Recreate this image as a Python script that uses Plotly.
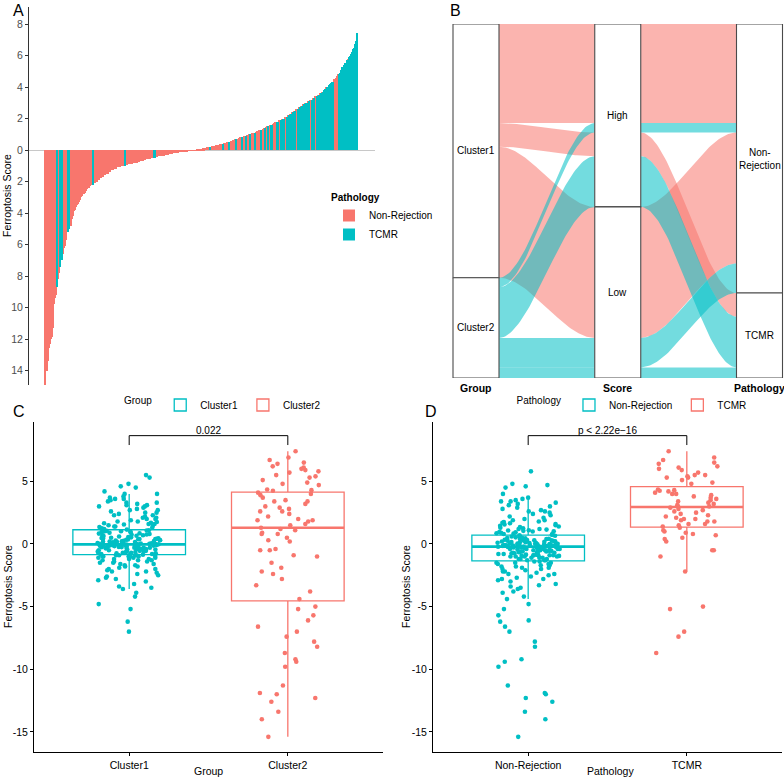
import numpy as np
import plotly.graph_objects as go
from collections import Counter

# ---------------- data ----------------
c1_nonrej = [
    -7.0, -6.2, -5.2, -4.8, -4.2, -3.9, -3.6, -3.5, -3.4, -3.2, -3.0, -2.9, -2.8, -2.7, -2.6, -2.5, -2.4, -2.3, -2.2, -2.2,
    -2.1, -2.0, -2.0, -1.9, -1.8, -1.8, -1.7, -1.7, -1.6, -1.6, -1.5, -1.5, -1.4, -1.4, -1.3, -1.3, -1.3, -1.2, -1.2, -1.2,
    -1.1, -1.1, -1.1, -1.0, -1.0, -1.0, -1.0, -0.95, -0.95, -0.9, -0.9, -0.9, -0.9, -0.85,
    -0.85, -0.8, -0.8, -0.8, -0.75, -0.75, -0.7, -0.7, -0.7, -0.65, -0.65, -0.6, -0.6, -0.6, -0.55, -0.55, -0.5, -0.5, -0.5, -0.45,
    -0.45, -0.4, -0.4, -0.4, -0.38, -0.35, -0.35, -0.32, -0.3, -0.3, -0.28, -0.26, -0.25, -0.24, -0.22, -0.2, -0.2, -0.18, -0.17, -0.16,
    -0.15, -0.14, -0.13, -0.12, -0.11, -0.1, -0.09, -0.08, -0.07, -0.06, -0.05, -0.04, -0.03, -0.03, -0.02, -0.01, -0.01,
    0.01, 0.02, 0.04, 0.05, 0.07, 0.08, 0.1, 0.12, 0.14, 0.15, 0.17, 0.19, 0.2, 0.22, 0.24, 0.26, 0.28, 0.3, 0.32, 0.34,
    0.36, 0.38, 0.4, 0.42, 0.44, 0.46, 0.48, 0.5, 0.53, 0.56, 0.6, 0.63, 0.66, 0.7,
    0.73, 0.76, 0.8, 0.83, 0.86, 0.9, 0.93, 0.96, 1.0, 1.02, 1.05, 1.08, 1.1,
    1.15, 1.2, 1.25, 1.3, 1.35, 1.4, 1.45, 1.5, 1.55, 1.6, 1.65, 1.7, 1.75, 1.8, 1.9, 2.0, 2.1, 2.2, 2.3, 2.4,
    2.5, 2.6, 2.7, 2.8, 2.9, 3.0, 3.1, 3.2, 3.3, 3.4, 3.5, 3.6, 3.7, 4.0, 4.5, 4.6, 4.8,
]
c1_tcmr = [0.4, 0.7, 1.0, 1.4, 1.6, 1.8, 2.0, 2.1, 2.3, 2.5, 2.7, 3.0, 3.1, 3.3, 3.6, 3.8, 4.0, 4.2, 5.3, 5.5]
c2_nonrej = [-15.4, -14.0, -13.4, -12.6, -12.3, -12.0, -11.9, -11.3, -9.8, -9.4, -9.2, -8.2, -7.8, -6.6, -6.1, -5.7,
             -4.4, -3.8, -3.3, -2.8, -2.4, -1.9, -1.5, -0.9, -0.4, 0.3, 0.8, 1.2, 1.9, 2.6, 3.4, 4.7, 5.8]
c2_tcmr = [-8.7, -7.4, -7.0, -5.2, -5.0, -2.2, -1.0, -0.5, -0.5, 0.2, 0.5, 0.8, 0.9, 1.1, 1.3,
           1.5, 1.6, 1.8, 1.9, 2.0, 2.2, 2.4, 2.6, 2.8, 2.9, 3.0, 3.2, 3.4, 3.5, 3.7, 3.9, 4.0, 4.1,
           4.25, 4.3, 4.35, 4.8, 4.9, 5.1, 5.3, 5.4, 5.5, 5.7, 5.9, 6.0, 6.1, 6.2, 6.4, 6.5, 6.7, 6.9, 7.4]

groups = ["Cluster1", "Cluster2"]
pathologies = ["Non-Rejection", "TCMR"]
score_levels = ["High", "Low"]
alluvial_axes = ["Group", "Score", "Pathology"]
a_tickvals = [8, 6, 4, 2, 0, -2, -4, -6, -8, -10, -12, -14]
a_ticktext = [str(abs(v)) for v in a_tickvals]
cd_tickvals = [5, 0, -5, -10, -15]
cd_ticktext = ["5", "0", "-5", "-10", "-15"]
p_label_c = "0.022"
p_label_d = "p < 2.22e\u221216"

# ---------------- styles ----------------
PINK = "#F8766D"
TEAL = "#00BFC4"
W, H = 784, 777
FONT = "Liberation Sans, Arial, sans-serif"


def px_x(p):
    return p / W


def px_y(p):
    return 1 - p / H


samples = ([(s, "Cluster1", "Non-Rejection") for s in c1_nonrej] +
           [(s, "Cluster1", "TCMR") for s in c1_tcmr] +
           [(s, "Cluster2", "Non-Rejection") for s in c2_nonrej] +
           [(s, "Cluster2", "TCMR") for s in c2_tcmr])
N = len(samples)

fig = go.Figure()

# ---------------- Panel A: waterfall bars ----------------
order = sorted(samples, key=lambda r: r[0])
path_col_a = {"Non-Rejection": PINK, "TCMR": TEAL}
for p in pathologies:
    xs = [i for i, r in enumerate(order) if r[2] == p]
    ys = [r[0] for r in order if r[2] == p]
    fig.add_trace(go.Bar(x=xs, y=ys, width=1.0, name=p, marker=dict(color=path_col_a[p], line=dict(width=0)),
                         xaxis="x", yaxis="y", legend="legend", showlegend=True))

# ---------------- Panel B: alluvial ----------------
cnt = Counter((g, "High" if s > 0 else "Low", p) for s, g, p in samples)
combos = [(g, sc, p, cnt[(g, sc, p)]) for g in groups for sc in score_levels for p in pathologies if cnt[(g, sc, p)] > 0]
gi = {g: i for i, g in enumerate(groups)}
si = {s: i for i, s in enumerate(score_levels)}
pi = {p: i for i, p in enumerate(pathologies)}


def lode_positions(key):
    pos, y = {}, 0
    for c in sorted(combos, key=key):
        pos[c[:3]] = (y, y + c[3])
        y += c[3]
    return pos


pos_axes = [
    lode_positions(lambda c: (gi[c[0]], si[c[1]], pi[c[2]])),
    lode_positions(lambda c: (si[c[1]], pi[c[2]], gi[c[0]])),
    lode_positions(lambda c: (pi[c[2]], si[c[1]], gi[c[0]])),
]
hw = 23 / 141.75
t = np.linspace(0, 1, 60)
f = 3 * t ** 2 - 2 * t ** 3
grp_fill = {"Cluster1": "rgba(248,118,109,0.55)", "Cluster2": "rgba(0,191,196,0.55)"}
for k in range(2):
    x0, x1 = k + 1 + hw, k + 2 - hw
    xs = x0 + (x1 - x0) * t
    for c in combos:
        a0, b0 = pos_axes[k][c[:3]]
        a1, b1 = pos_axes[k + 1][c[:3]]
        top = a0 + (a1 - a0) * f
        bot = b0 + (b1 - b0) * f
        fig.add_trace(go.Scatter(x=np.concatenate([xs, xs[::-1]]), y=np.concatenate([top, bot[::-1]]),
                                 mode="lines", fill="toself", fillcolor=grp_fill[c[0]], line=dict(width=0),
                                 xaxis="x2", yaxis="y2", showlegend=False, hoverinfo="skip"))

strata_levels = [groups, score_levels, pathologies]
annotations = []
for k in range(3):
    y = 0
    for lev in strata_levels[k]:
        n = sum(c[3] for c in combos if c[k] == lev)
        xk = k + 1
        fig.add_trace(go.Scatter(x=[xk - hw, xk + hw, xk + hw, xk - hw, xk - hw], y=[y, y, y + n, y + n, y],
                                 mode="lines", fill="toself", fillcolor="white",
                                 line=dict(color="#4a4a4a", width=1.1),
                                 xaxis="x2", yaxis="y2", showlegend=False, hoverinfo="skip"))
        label = "Non-<br>Rejection" if lev == "Non-Rejection" else lev
        annotations.append(dict(x=xk, y=y + n / 2, xref="x2", yref="y2", text=label, showarrow=False,
                                font=dict(size=10, color="black"), xanchor="center", yanchor="middle"))
        y += n
    annotations.append(dict(x=k + 1, y=px_y(388), xref="x2", yref="paper", text="<b>%s</b>" % alluvial_axes[k],
                            showarrow=False, font=dict(size=10.5, color="black"), xanchor="center",
                            yanchor="middle"))

# ---------------- Panels C & D: box + jitter ----------------
def jitter_offsets(n, half, seed):
    # deterministic hash-based horizontal jitter (position only)
    k = np.arange(n) + seed
    u = np.modf(np.abs(np.sin(k * 12.9898 + 78.233) * 43758.5453))[0]
    return (u - 0.5) * 2 * half


panels = [
    ("x3", "y3", "legend2", groups, 1, {"Cluster1": TEAL, "Cluster2": PINK}, p_label_c),
    ("x4", "y4", "legend3", pathologies, 2, {"Non-Rejection": TEAL, "TCMR": PINK}, p_label_d),
]
ymax_all = max(s for s, _, _ in samples)
for pidx, (xa, ya, lg, levels, col, colors, plab) in enumerate(panels):
    for i, lev in enumerate(levels):
        vals = np.array([r[0] for r in samples if r[col] == lev])
        fig.add_trace(go.Box(y=vals, x=[i] * len(vals), width=0.71, name=lev, boxpoints="outliers",
                             marker=dict(opacity=0, size=1), line=dict(color=colors[lev], width=1.3),
                             fillcolor="white", whiskerwidth=0, quartilemethod="linear",
                             xaxis=xa, yaxis=ya, legend=lg, showlegend=True, hoverinfo="skip"))
        med = float(np.median(vals))
        fig.add_trace(go.Scatter(x=[i - 0.355, i + 0.355], y=[med, med], mode="lines",
                                 line=dict(color=colors[lev], width=2.6), xaxis=xa, yaxis=ya,
                                 showlegend=False, hoverinfo="skip"))
        fig.add_trace(go.Scatter(x=i + jitter_offsets(len(vals), 0.2, 7 + 311 * pidx + 97 * i), y=vals,
                                 mode="markers", marker=dict(color=colors[lev], size=4.6, line=dict(width=0)),
                                 xaxis=xa, yaxis=ya, showlegend=False, hoverinfo="skip"))
    top, tip = ymax_all + 1.25, ymax_all + 0.5
    fig.add_trace(go.Scatter(x=[0, 0, 1, 1], y=[tip, top, top, tip], mode="lines",
                             line=dict(color="black", width=1), xaxis=xa, yaxis=ya,
                             showlegend=False, hoverinfo="skip"))
    annotations.append(dict(x=0.5, y=top, xref=xa, yref=ya, text=plab, showarrow=False,
                            font=dict(size=10, color="black"), xanchor="center", yanchor="bottom", yshift=-2))

# ---------------- text annotations ----------------
for txt, xp, yp in [("A", 18, 10), ("B", 455, 10), ("C", 19, 411), ("D", 431, 411)]:
    annotations.append(dict(x=px_x(xp), y=px_y(yp), xref="paper", yref="paper", text=txt, showarrow=False,
                            font=dict(size=16, color="black"), xanchor="center", yanchor="middle"))
for xp, yp in [(7, 196), (8, 587), (406, 587)]:
    annotations.append(dict(x=px_x(xp), y=px_y(yp), xref="paper", yref="paper", text="Ferroptosis Score",
                            textangle=-90, showarrow=False, font=dict(size=10.5, color="black"),
                            xanchor="center", yanchor="middle"))
for txt, xp in [("Group", 208.5), ("Pathology", 610)]:
    annotations.append(dict(x=px_x(xp), y=px_y(771), xref="paper", yref="paper", text=txt, showarrow=False,
                            font=dict(size=10.5, color="black"), xanchor="center", yanchor="middle"))

axis_common = dict(showgrid=False, zeroline=False, showline=True, linecolor="black", linewidth=1,
                   ticks="outside", ticklen=3, tickcolor="black", tickfont=dict(size=10.5, color="black"))

fig.update_layout(
    width=W, height=H, autosize=False, margin=dict(l=0, r=0, t=0, b=0),
    plot_bgcolor="white", paper_bgcolor="white", barmode="overlay", bargap=0,
    font=dict(family=FONT, size=10, color="black"),
    xaxis=dict(domain=[px_x(29), px_x(375)], range=[-15.8, N - 1 + 16.8], visible=False, anchor="y"),
    yaxis=dict(domain=[px_y(385), px_y(7)], range=[-14.92, 9.08], tickvals=a_tickvals, ticktext=a_ticktext,
               showgrid=False, showline=True, linecolor="#333333", linewidth=1, ticks="outside", ticklen=3,
               tickcolor="#333333", tickfont=dict(size=10.5, color="#4d4d4d"),
               zeroline=True, zerolinecolor="#c8c8c8", zerolinewidth=1, anchor="x"),
    xaxis2=dict(domain=[px_x(440), 1.0], range=[1 - 36 / 141.75, 3 + 24.5 / 141.75],
                showticklabels=False, showline=False, ticks="", showgrid=False,
                zeroline=False, anchor="y2"),
    yaxis2=dict(domain=[px_y(378), px_y(24)], range=[N, 0], visible=False, anchor="x2"),
    xaxis3=dict(domain=[px_x(34), px_x(383)], range=[-0.6, 1.6], tickvals=[0, 1], ticktext=groups,
                anchor="y3", **axis_common),
    yaxis3=dict(domain=[px_y(752), px_y(422)], range=[-16.61, 9.74], tickvals=cd_tickvals, ticktext=cd_ticktext,
                anchor="x3", **axis_common),
    xaxis4=dict(domain=[px_x(433), px_x(782)], range=[-0.6, 1.6], tickvals=[0, 1], ticktext=pathologies,
                anchor="y4", **axis_common),
    yaxis4=dict(domain=[px_y(752), px_y(422)], range=[-16.61, 9.74], tickvals=cd_tickvals, ticktext=cd_ticktext,
                anchor="x4", **axis_common),
    legend=dict(title=dict(text="<b>Pathology</b>", font=dict(size=10)), x=px_x(329), y=px_y(188),
                xanchor="left", yanchor="top", font=dict(size=10), bgcolor="rgba(0,0,0,0)",
                tracegroupgap=0, itemwidth=30),
    legend2=dict(title=dict(text="Group", font=dict(size=10), side="left"), orientation="h",
                 x=px_x(224), y=px_y(405), xanchor="center", yanchor="middle", font=dict(size=10),
                 bgcolor="rgba(0,0,0,0)", itemwidth=30),
    legend3=dict(title=dict(text="Pathology", font=dict(size=10), side="left"), orientation="h",
                 x=px_x(633), y=px_y(405), xanchor="center", yanchor="middle", font=dict(size=10),
                 bgcolor="rgba(0,0,0,0)", itemwidth=30),
    annotations=annotations,
)

fig.write_html("out.html", config={"displayModeBar": False},
               post_script="document.body.style.margin='0';")
